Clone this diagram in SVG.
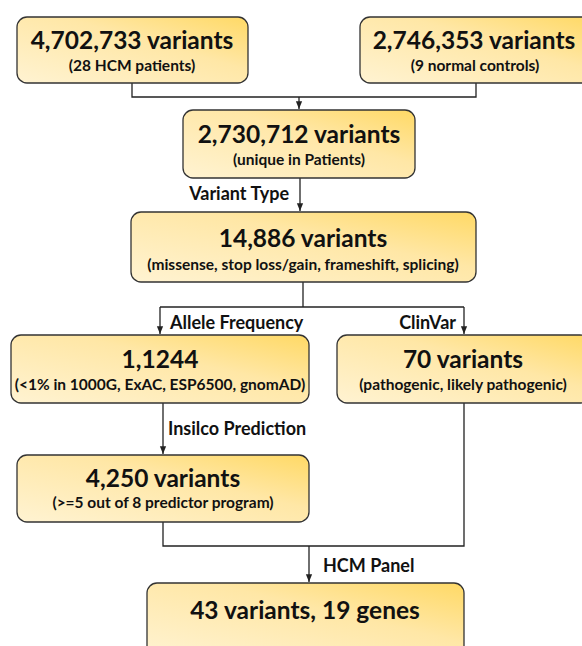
<svg xmlns="http://www.w3.org/2000/svg" width="582" height="646" viewBox="0 0 582 646">
<defs>
<linearGradient id="g" x1="0" y1="1" x2="1" y2="0">
<stop offset="0" stop-color="#FFF3D2"/>
<stop offset="0.6" stop-color="#FFE7A6"/>
<stop offset="1" stop-color="#FFD965"/>
</linearGradient>
<marker id="a" viewBox="0 0 10 10" refX="10" refY="5" markerWidth="6" markerHeight="6" orient="auto">
<path d="M0,1 L10,5 L0,9 z" fill="#222"/>
</marker>
<style>
.box{fill:url(#g);stroke:#333;stroke-width:1.3}
.t{font-family:Lato,"Open Sans",sans-serif;font-weight:700;fill:#111;text-anchor:middle}
.h{font-size:24.5px}
.s{font-size:15.5px}
.l{font-family:Lato,"Open Sans",sans-serif;font-weight:700;fill:#111;font-size:18px}
.c{fill:none;stroke:#222;stroke-width:1.3}
</style>
</defs>
<g id="connectors">
<path class="c" d="M132,83 V97 H476 V83"/>
<path class="c" d="M299,97 V109" marker-end="url(#a)"/>
<path class="c" d="M300,178 V211" marker-end="url(#a)"/>
<path class="c" d="M303,282 V307"/>
<path class="c" d="M160,307 H464"/>
<path class="c" d="M160,307 V334" marker-end="url(#a)"/>
<path class="c" d="M464,307 V334" marker-end="url(#a)"/>
<path class="c" d="M163,403 V454" marker-end="url(#a)"/>
<path class="c" d="M163,522 V546 H464 V403"/>
<path class="c" d="M309,546 V582" marker-end="url(#a)"/>
<text class="l" x="289" y="200" text-anchor="end">Variant Type</text>
<text class="l" x="170" y="329">Allele Frequency</text>
<text class="l" x="456" y="329" text-anchor="end">ClinVar</text>
<text class="l" x="168" y="435">Insilco Prediction</text>
<text class="l" x="323" y="572">HCM Panel</text>
</g>
<g id="n1">
<rect class="box" x="17" y="17" width="231" height="66" rx="10"/>
<text class="t h" x="132" y="49">4,702,733 variants</text>
<text class="t s" x="132" y="71">(28 HCM patients)</text>
</g>
<g id="n2">
<rect class="box" x="360" y="17" width="232" height="66" rx="10"/>
<text class="t h" x="474" y="49">2,746,353 variants</text>
<text class="t s" x="475" y="71">(9 normal controls)</text>
</g>
<g id="n3">
<rect class="box" x="183" y="110" width="232" height="68" rx="10"/>
<text class="t h" x="299" y="143">2,730,712 variants</text>
<text class="t s" x="299" y="165">(unique in Patients)</text>
</g>
<g id="n4">
<rect class="box" x="131" y="212" width="345" height="70" rx="10"/>
<text class="t h" x="303" y="247">14,886 variants</text>
<text class="t s" x="303" y="270">(missense, stop loss/gain, frameshift, splicing)</text>
</g>
<g id="n5">
<rect class="box" x="11" y="335" width="298" height="68" rx="10"/>
<text class="t h" x="160" y="368">1,1244</text>
<text class="t s" x="160" y="390">(&lt;1% in 1000G, ExAC, ESP6500, gnomAD)</text>
</g>
<g id="n6">
<rect class="box" x="337" y="335" width="253" height="68" rx="10"/>
<text class="t h" x="463" y="368">70 variants</text>
<text class="t s" x="463" y="390">(pathogenic, likely pathogenic)</text>
</g>
<g id="n7">
<rect class="box" x="17" y="455" width="292" height="67" rx="10"/>
<text class="t h" x="163" y="487">4,250 variants</text>
<text class="t s" x="163" y="508">(&gt;=5 out of 8 predictor program)</text>
</g>
<g id="n8">
<rect class="box" x="147" y="583" width="317" height="75" rx="10"/>
<text class="t h" x="305" y="619">43 variants, 19 genes</text>
</g>
</svg>
